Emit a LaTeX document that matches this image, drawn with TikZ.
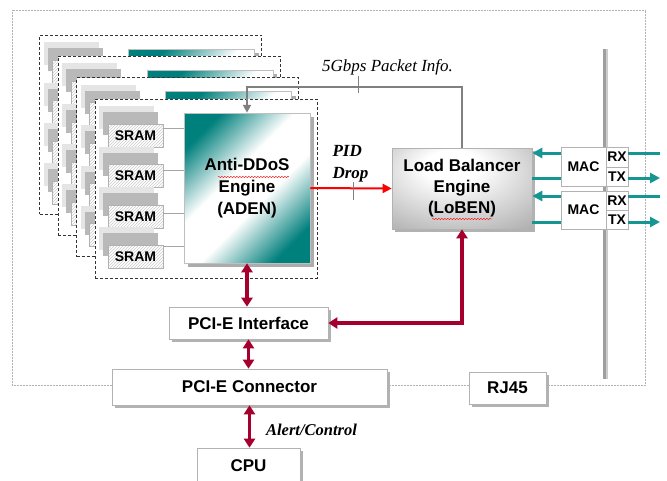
\documentclass[tikz,border=0pt]{standalone}
\usepackage{fontspec}
\setmainfont{Liberation Serif}
\setsansfont{Liberation Sans}
\usetikzlibrary{arrows.meta,shadows,patterns,decorations.pathmorphing}
\definecolor{tealc}{RGB}{22,150,146}
\definecolor{tealdark}{RGB}{0,128,124}
\definecolor{darkred}{RGB}{165,0,45}
\colorlet{lobA}{gray!65}
\colorlet{lobB}{gray!95}
\pgfdeclareradialshading{lobshade}{\pgfpoint{-4bp}{16bp}}{color(0bp)=(white);color(10bp)=(white);color(42bp)=(lobA);color(71bp)=(lobB)}
\pgfdeclareverticalshading{adenshade}{100bp}{color(0bp)=(tealdark);color(24bp)=(tealdark);color(43bp)=(white);color(57bp)=(white);color(76bp)=(tealdark);color(100bp)=(tealdark)}
\begin{document}
\begin{tikzpicture}[x=1pt,y=-1pt,
  shad/.style={drop shadow={shadow xshift=3pt,shadow yshift=-3pt,fill=gray!60,opacity=1}},
  plainbox/.style={draw=gray!60,line width=0.6pt,fill=white,inner sep=0pt,font=\sffamily\bfseries\fontsize{17}{20}\selectfont,shad},
  smallbox/.style={draw=gray!60,line width=0.6pt,fill=white,inner sep=0pt,font=\sffamily\bfseries\fontsize{14}{16}\selectfont},
  cardbox/.style={draw=black!80,densely dashed,line width=0.5pt,fill=white,minimum width=222pt,minimum height=179pt,inner sep=0pt},
  adenbox/.style={draw=gray!50,line width=0.5pt,shading=adenshade,shading angle=45,minimum width=126pt,minimum height=150pt,inner sep=0pt,align=center,font=\sffamily\bfseries\fontsize{17}{22}\selectfont,drop shadow={shadow xshift=4pt,shadow yshift=-4pt,fill=gray!65,opacity=1}},
  srambox/.style={draw=gray!60,line width=0.5pt,preaction={fill=white},pattern=north east lines,pattern color=gray!40,minimum width=55pt,minimum height=23pt,inner sep=0pt,font=\sffamily\bfseries\fontsize{14}{16}\selectfont},
  tealline/.style={tealc,line width=3pt},
  tealarr/.style={tealc,line width=3pt,-{Triangle[length=10pt,width=10pt]}},
  redarr/.style={darkred,line width=3.2pt,{Triangle[length=9pt,width=11pt]}-{Triangle[length=9pt,width=11pt]}},
  tick/.style={gray,line width=0.5pt},
  spell/.style={red,line width=0.4pt,decorate,decoration={snake,segment length=3pt,amplitude=0.7pt}}
]
\useasboundingbox (0,0) rectangle (667,480);
% outer frame
\draw[gray!60,densely dotted,line width=0.5pt] (12,10) rectangle (645,385);
% vertical bus bar
\fill[gray!75] (603,49) rectangle (606,379);
\fill[gray!40] (606,49) rectangle (608,379);
% stacked cards (only the front one shows its texts)
\foreach \k in {1,2,3,4}{
  \begin{scope}[shift={({(\k-4)*18.5},{(\k-4)*21.3})}]
    \node[cardbox] (card\k) at (206,188.5) {};
    \foreach \j/\yc in {1/135.5,2/176,3/216.5,4/256.5}{
      \fill[gray!20] (99,{\yc-29.5}) rectangle ++(55,23);
      \fill[gray!55] (103,{\yc-23.5}) rectangle ++(55,23);
      \ifnum\k=4
        \node[srambox] (sram\k\j) at (135.5,\yc) {SRAM};
      \else
        \node[srambox] (sram\k\j) at (135.5,\yc) {};
      \fi
    }
    \ifnum\k=4
      \node[adenbox] (aden\k) at (247,188) {Anti-DDoS\\Engine\\(ADEN)};
    \else
      \node[adenbox] (aden\k) at (247,188) {};
    \fi
    \foreach \j/\ls in {1/7.5,2/6,3/3.5,4/10.5}{
      \path ([yshift=\ls pt]sram\k\j.east) coordinate (sl\k\j);
      \draw[gray!70,line width=0.6pt] (sl\k\j) -- (sl\k\j -| aden\k.west);
    }
  \end{scope}
}
% load balancer
\node[draw=gray!60,line width=0.6pt,shading=lobshade,inner sep=0pt,minimum width=140pt,minimum height=81pt,align=center,font=\sffamily\bfseries\fontsize{17}{21}\selectfont,shad] (loben) at (462,188.5) {Load Balancer\\Engine\\(LoBEN)};
% MAC boxes
\node[smallbox,minimum width=45pt,minimum height=39pt] (mac1) at (583.5,166.5) {MAC};
\node[smallbox,minimum width=22pt,minimum height=20pt] (rx1) at (617,157) {RX};
\node[smallbox,minimum width=22pt,minimum height=19pt] (tx1) at (617,176.5) {TX};
\node[smallbox,minimum width=45pt,minimum height=38pt] (mac2) at (583.5,210) {MAC};
\node[smallbox,minimum width=22pt,minimum height=19pt] (rx2) at (617,200.5) {RX};
\node[smallbox,minimum width=22pt,minimum height=19pt] (tx2) at (617,219.5) {TX};
\coordinate (r1) at (660,153);
\coordinate (t1) at (660,178);
\coordinate (r2) at (660,196);
\coordinate (t2) at (660,222);
\draw[tealline] (rx1.east |- r1) -- (r1);
\draw[tealarr] (tx1.east |- t1) -- (t1);
\draw[tealline] (rx2.east |- r2) -- (r2);
\draw[tealarr] (tx2.east |- t2) -- (t2);
\draw[tealarr] (mac1.west |- r1) -- (loben.east |- r1);
\draw[tealline] (loben.east |- t1) -- (mac1.west |- t1);
\draw[tealarr] (mac2.west |- r2) -- (loben.east |- r2);
\draw[tealline] (loben.east |- t2) -- (mac2.west |- t2);
% packet info line
\coordinate (pk) at (300,87);
\draw[gray,line width=2pt,-{Triangle[length=8pt,width=8pt]}] (loben.north) |- (pk) -| (aden4.north);
\draw[tick] (358,76) -- (358,93);
\node[font=\itshape\fontsize{17}{20}\selectfont] (lbl5) at (387.5,67) {5Gbps Packet Info.};
% PID drop
\draw[red,line width=2pt,-{Triangle[length=9pt,width=9pt]}] (aden4.east) -- (loben.west);
\node[font=\bfseries\itshape\fontsize{17}{22}\selectfont,align=left] (pid) at (350.5,164) {PID\\Drop};
\draw[tick] (353,182) -- (353,200);
% spell-check marks
\draw[spell] (218,177) -- (289,177);
\draw[spell] (432,219) -- (492,219);
% PCI-E and below
\node[plainbox,minimum width=159pt,minimum height=32pt] (pcii) at (248.5,323) {PCI-E Interface};
\node[plainbox,minimum width=275pt,minimum height=36pt] (pcic) at (249.5,387) {PCI-E Connector};
\node[plainbox,minimum width=77pt,minimum height=32pt] (rj45) at (507.5,388) {RJ45};
\node[plainbox,minimum width=103pt,minimum height=36pt] (cpu) at (248.5,466) {CPU};
\draw[redarr] (aden4.south) -- (aden4.south |- pcii.north);
\draw[redarr] (loben.south) |- (pcii.east);
\draw[redarr] (pcii.south) -- (pcii.south |- pcic.north);
\draw[redarr] (pcic.south) -- (pcic.south |- cpu.north);
\node[font=\bfseries\itshape\fontsize{16.5}{20}\selectfont] (alert) at (311.5,430) {Alert/Control};
\end{tikzpicture}
\end{document}
